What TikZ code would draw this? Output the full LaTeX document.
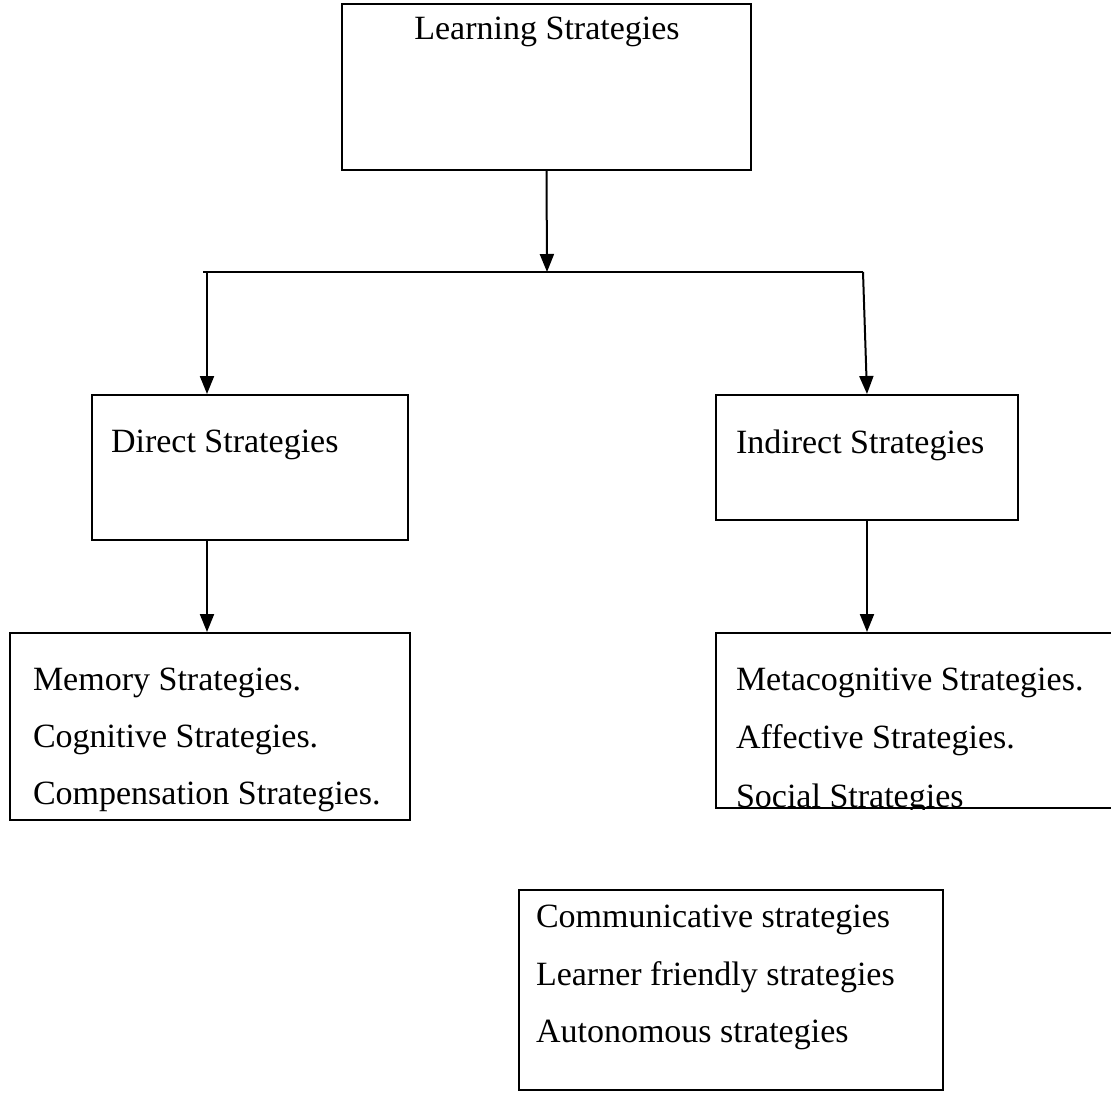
\documentclass[tikz,border=0pt]{standalone}
\usepackage{fontspec}
\setmainfont{Liberation Serif}
\usetikzlibrary{arrows.meta,positioning}
\tikzset {>={Triangle[width=7pt,length=9pt]}}
\tikzset{box/.style={draw,rectangle,inner sep=0pt},
  lbl/.style={inner sep=0pt,anchor=west,font=\fontsize{17}{20}\selectfont}}

\begin{document}
\begin{tikzpicture}[x=0.5pt,y=-0.5pt,line width=1pt]
\useasboundingbox (0,0) rectangle (1111,1119);
% boxes
\node[box,minimum width=204.5pt,minimum height=83pt] (learn) at (546.5,87) {};
\node[box,minimum width=158pt,minimum height=72.5pt] (direct) at (250,467.5) {};
\node[box,minimum width=151pt,minimum height=62.5pt] (indirect) at (867,457.5) {};
\node[box,minimum width=200pt,minimum height=93.5pt] (memory) at (210,726.5) {};
\node[box,minimum width=199.5pt,minimum height=87.5pt] (meta) at (915.5,720.5) {};
\node[box,minimum width=212pt,minimum height=100pt] (other) at (731,990) {};
% texts
\node[lbl,anchor=center] (learnT) at (547,32) {Learning Strategies};
\node[lbl] (directT) at (110,445) {Direct Strategies};
\node[lbl] (indirectT) at (735,445) {Indirect Strategies};
\node[lbl] (mem1) at (32,683) {Memory Strategies.};
\node[lbl] (mem2) at (32,740) {Cognitive Strategies.};
\node[lbl] (mem3) at (32,797) {Compensation Strategies.};
\begin{scope}
\clip (meta.north west) rectangle (meta.south east);
\node[lbl] (meta1) at (735,683) {Metacognitive Strategies.};
\node[lbl] (meta2) at (735,740) {Affective Strategies.};
\node[lbl] (meta3) at (735,799) {Social Strategies};
\end{scope}
\node[lbl] (oth1) at (535,920) {Communicative strategies};
\node[lbl] (oth2) at (535,977) {Learner friendly strategies};
\node[lbl] (oth3) at (535,1035) {Autonomous strategies};
% connectors
\coordinate (split) at (547,272);
\coordinate (lend) at (203,272);
\coordinate (ldrop) at (207,272);
\coordinate (rdrop) at (863,272);
\draw[->] (learn.south) -- (split);
\draw (lend) -- (rdrop);
\draw[->] (ldrop) -- (ldrop |- direct.north);
\draw[->] (rdrop) -- (indirect.north);
\draw[->] (direct.south -| ldrop) -- (ldrop |- memory.north);
\draw[->] (indirect.south) -- (indirect.south |- meta.north);
\end{tikzpicture}
\end{document}
